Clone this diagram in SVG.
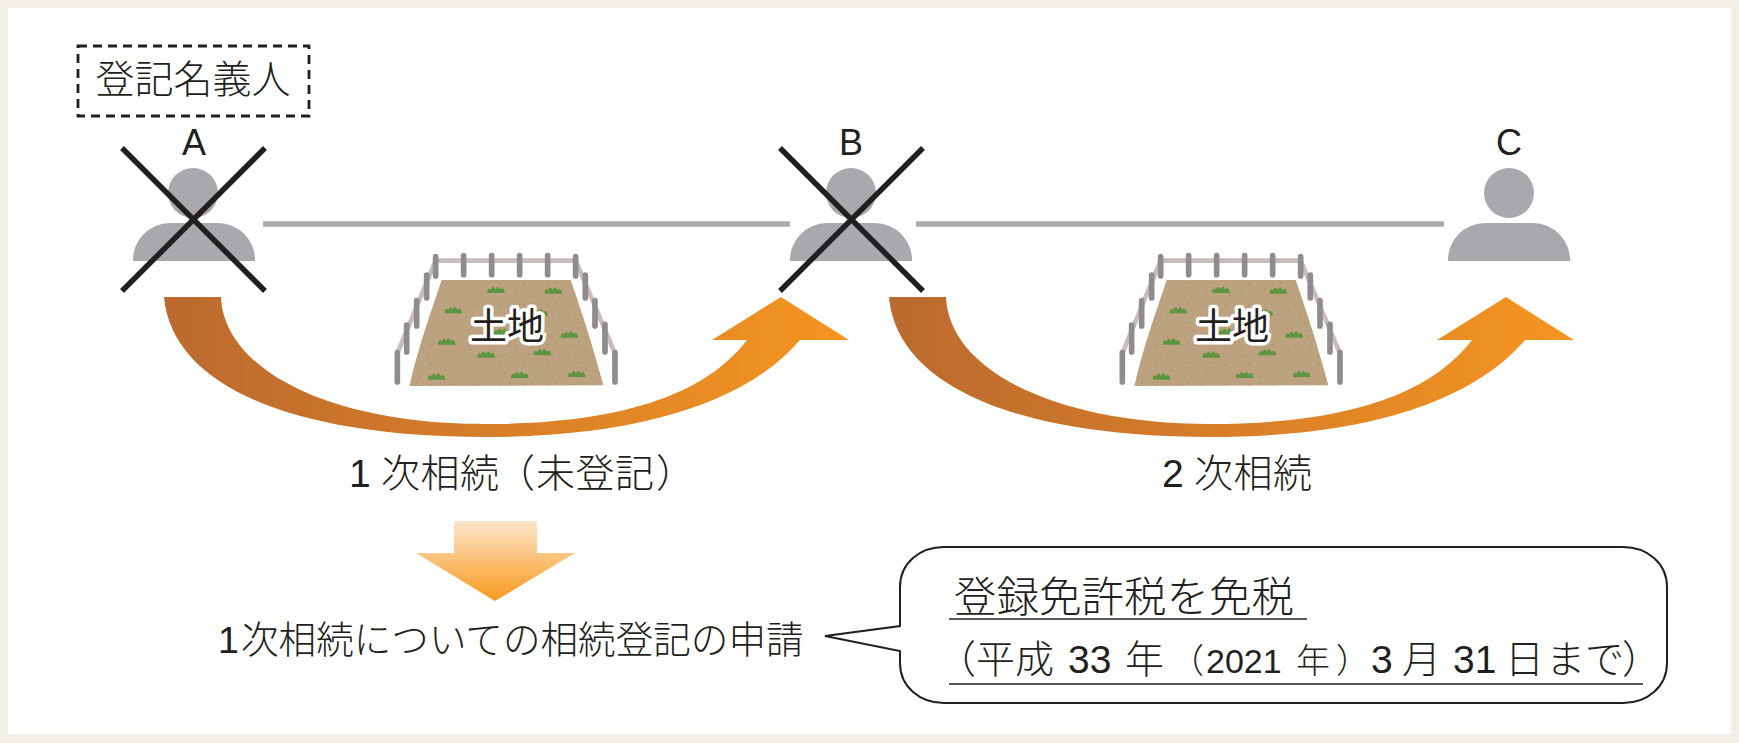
<svg xmlns="http://www.w3.org/2000/svg" width="1739" height="743" viewBox="0 0 1739 743">
<style>
text{font-family:"Noto Sans CJK JP","Liberation Sans",sans-serif;fill:#231f20;font-weight:300}
.lat{font-family:"Liberation Sans","Noto Sans CJK JP",sans-serif;font-weight:400}
.lbl{font-size:39px}
.land{font-size:37px;font-weight:400;stroke:#fff;stroke-width:7px;paint-order:stroke;stroke-linejoin:round}
.person{fill:#a7a9ac}
.cross{stroke:#231f20;stroke-width:5.5;fill:none}
.link{stroke:#a7a9ac;stroke-width:5.5;fill:none}
.rail{stroke:#c8bdba;stroke-width:14;fill:none}
.post{stroke:#8f8c90;stroke-width:17;stroke-linecap:round;fill:none}
.tuft{fill:#5c9640}
.rule{stroke:#231f20;stroke-width:1.3}
</style>
<defs>
<linearGradient id="flow" x1="0" x2="1" y1="0" y2="0"><stop offset="0" stop-color="#bb692f"/><stop offset="1" stop-color="#f59520"/></linearGradient>
<linearGradient id="down" x1="0" x2="0" y1="0" y2="1"><stop offset="0" stop-color="#fde6cb"/><stop offset="1" stop-color="#f7981d"/></linearGradient>
<pattern id="soil" width="70" height="60" patternUnits="userSpaceOnUse"><rect width="70" height="60" fill="#bca27f"/><circle cx="12" cy="14" r="2.4" fill="#a68b6b"/><circle cx="40" cy="8" r="2" fill="#a68b6b"/><circle cx="58" cy="30" r="2.4" fill="#a68b6b"/><circle cx="26" cy="42" r="2.4" fill="#a68b6b"/><circle cx="48" cy="52" r="2" fill="#a68b6b"/><circle cx="8" cy="50" r="2" fill="#a68b6b"/></pattern>
<path id="tuft" class="tuft" d="M-26 9C-27 2-24-4-20-4-18-4-17-2-15-1-14-5-11-9-8-9-5-9-4-5-2-2 0-6 3-10 6-10 9-10 10-5 12-2 14-4 16-5 19-5 23-5 26 2 26 9Z"/>
<path id="arrow" fill="url(#flow)" d="M164 297H221C224 370 330 424 485 424C620 424 705 395 747 340H712L781 297L849 340H800C747 402 640 437 485 437C290 437 172 385 164 297Z"/>
<g id="plot" transform="translate(380 240) scale(.3333)">
<path class="rail" d="M167 62H587M167 62L52 340M587 62L705 340"/>
<path class="post" d="M167 50V108M251 47V104M335 47V104M419 47V104M503 47V104M587 50V108M140 105V174M110 182V258M80 255V336M52 338V426M616 105V174M645 182V258M675 253V336M705 338V426"/>
<path fill="url(#soil)" d="M185 120H572C600 200 640 320 670 436L88 438C115 320 155 210 185 120Z"/>
<use href="#tuft" x="348" y="150"/><use href="#tuft" x="520" y="152"/><use href="#tuft" x="220" y="211"/><use href="#tuft" x="478" y="218"/><use href="#tuft" x="367" y="275"/><use href="#tuft" x="568" y="284"/><use href="#tuft" x="200" y="305"/><use href="#tuft" x="487" y="337"/><use href="#tuft" x="319" y="344"/><use href="#tuft" x="170" y="410"/><use href="#tuft" x="419" y="405"/><use href="#tuft" x="590" y="402"/>
</g>
</defs>
<rect width="1739" height="743" fill="#f2efe9"/>
<rect x="8" y="8" width="1723" height="726" fill="#fff"/>

<g id="connectors">
<path class="link" d="M263 224H790"/>
<path class="link" d="M916 224H1444"/>
<use href="#arrow"/>
<use href="#arrow" x="725"/>
<path fill="url(#down)" d="M454 521H537V553H575L495 601L416 553H454Z"/>
</g>

<g id="registered-owner">
<rect x="78" y="46" width="231" height="70" fill="none" stroke="#231f20" stroke-width="2.8" stroke-dasharray="9 6"/>
<text x="193" y="93" font-size="39" text-anchor="middle">登記名義人</text>
</g>

<g id="person-a">
<text class="lat" x="194" y="155" font-size="36" text-anchor="middle">A</text>
<circle class="person" cx="193" cy="193" r="25"/>
<path class="person" d="M133 261A37 37 0 0 1 170 223H218A37 37 0 0 1 255 261Z"/>
<path class="cross" d="M122 148L265 291M265 148L122 291"/>
</g>
<g id="person-b">
<text class="lat" x="851" y="155" font-size="36" text-anchor="middle">B</text>
<circle class="person" cx="851" cy="193" r="25"/>
<path class="person" d="M790 261A37 37 0 0 1 827 223H875A37 37 0 0 1 912 261Z"/>
<path class="cross" d="M780 148L923 291M923 148L780 291"/>
</g>
<g id="person-c">
<text class="lat" x="1509" y="155" font-size="36" text-anchor="middle">C</text>
<circle class="person" cx="1509" cy="193" r="25"/>
<path class="person" d="M1448 261A37 37 0 0 1 1485 223H1533A37 37 0 0 1 1570 261Z"/>
</g>

<g id="land-1">
<use href="#plot"/>
<text class="land" x="507" y="340" text-anchor="middle">土地</text>
</g>
<g id="land-2">
<g transform="translate(725 0)"><use href="#plot"/></g>
<text class="land" x="1232" y="340" text-anchor="middle">土地</text>
</g>

<text id="label-first" class="lbl" y="487"><tspan class="lat" x="349">1</tspan><tspan x="381" letter-spacing=".5">次相続</tspan><tspan x="496">（</tspan><tspan x="536" letter-spacing=".5">未登記</tspan><tspan x="656">）</tspan></text>
<text id="label-second" class="lbl" y="487"><tspan class="lat" x="1162">2</tspan><tspan x="1194" letter-spacing=".5">次相続</tspan></text>
<text id="label-application" y="653" font-size="37.6"><tspan class="lat" x="218">1</tspan><tspan x="241">次相続についての相続登記の申請</tspan></text>

<g id="callout">
<path d="M900 587C900 563 920 547 944 547H1623C1647 547 1667 563 1667 587V663C1667 687 1647 703 1623 703H944C920 703 900 687 900 663V651L825 636L900 626Z" fill="#fff" stroke="#231f20" stroke-width="2"/>
<text x="954" y="612" font-size="42.5">登録免許税を免税</text>
<line class="rule" x1="949" y1="619" x2="1307" y2="619"/>
<text y="673" font-size="39"><tspan x="937">（</tspan><tspan x="976">平成</tspan><tspan class="lat" x="1068">33</tspan><tspan x="1125">年</tspan><tspan x="1170" font-size="34">（</tspan><tspan class="lat" x="1206" font-size="34">2021</tspan><tspan x="1296" font-size="34">年</tspan><tspan x="1336" font-size="34">）</tspan><tspan class="lat" x="1371">3</tspan><tspan x="1402">月</tspan><tspan class="lat" x="1453">31</tspan><tspan x="1505">日</tspan><tspan x="1546">まで</tspan><tspan x="1622">）</tspan></text>
<line class="rule" x1="949" y1="684" x2="1643" y2="684"/>
</g>
</svg>
